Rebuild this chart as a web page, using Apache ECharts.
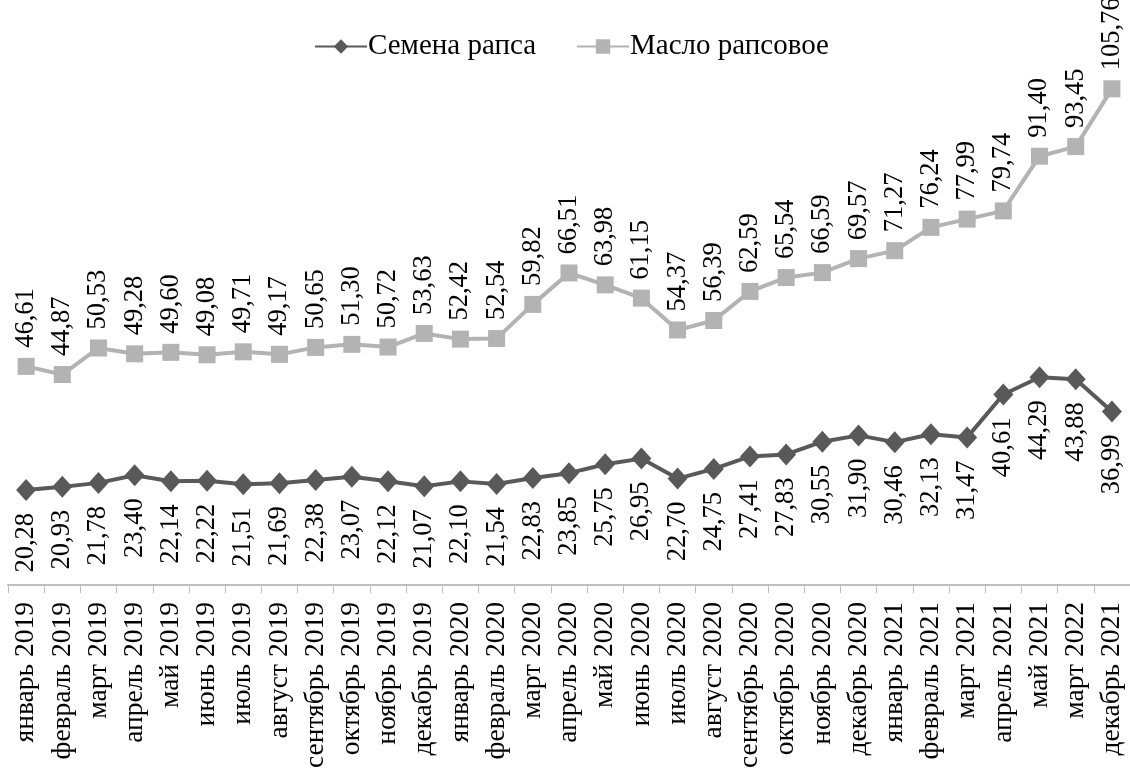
<!DOCTYPE html>
<html>
<head>
<meta charset="utf-8">
<script src="https://cdn.jsdelivr.net/npm/echarts@6/dist/echarts.min.js"></script>
<style>
  html, body { margin: 0; padding: 0; background: #fff; }
  #chart { width: 1130px; height: 771px; }
</style>
</head>
<body>
<div id="chart"></div>
<script>
// Месяцы наблюдений
const months = [
  'январь 2019', 'февраль 2019', 'март 2019', 'апрель 2019', 'май 2019', 'июнь 2019',
  'июль 2019', 'август 2019', 'сентябрь 2019', 'октябрь 2019', 'ноябрь 2019', 'декабрь 2019',
  'январь 2020', 'февраль 2020', 'март 2020', 'апрель 2020', 'май 2020', 'июнь 2020',
  'июль 2020', 'август 2020', 'сентябрь 2020', 'октябрь 2020', 'ноябрь 2020', 'декабрь 2020',
  'январь 2021', 'февраль 2021', 'март 2021', 'апрель 2021', 'май 2021', 'март 2022', 'декабрь 2021'
];

// Семена рапса, руб/кг
const seeds = [
  20.28, 20.93, 21.78, 23.40, 22.14, 22.22, 21.51, 21.69, 22.38, 23.07, 22.12, 21.07,
  22.10, 21.54, 22.83, 23.85, 25.75, 26.95, 22.70, 24.75, 27.41, 27.83, 30.55, 31.90,
  30.46, 32.13, 31.47, 40.61, 44.29, 43.88, 36.99
];

// Масло рапсовое, руб/кг
const oil = [
  46.61, 44.87, 50.53, 49.28, 49.60, 49.08, 49.71, 49.17, 50.65, 51.30, 50.72, 53.63,
  52.42, 52.54, 59.82, 66.51, 63.98, 61.15, 54.37, 56.39, 62.59, 65.54, 66.59, 69.57,
  71.27, 76.24, 77.99, 79.74, 91.40, 93.45, 105.76
];

const seriesNames = ['Семена рапса', 'Масло рапсовое'];
const titleText = 'Цены на семена и масло рапса (руб/кг)';

const FONT = '"Liberation Serif", "Times New Roman", serif';
const fmt = p => p.value.toFixed(2).replace('.', ',');

const chart = echarts.init(document.getElementById('chart'), null, { renderer: 'canvas' });

chart.setOption({
  animation: false,
  backgroundColor: '#ffffff',
  graphic: [{
    type: 'text',
    right: 755,
    top: -27,
    style: {
      text: titleText,
      font: 'bold 28px ' + FONT,
      fill: '#000'
    }
  }],
  legend: {
    top: 27,
    left: 309,
    itemWidth: 52,
    itemHeight: 18,
    itemGap: 40,
    textStyle: { fontFamily: FONT, fontSize: 29, color: '#000', padding: [0, 0, 0, -4] },
    data: seriesNames
  },
  grid: {
    left: 8,
    width: 1125,
    top: 22,
    bottom: 183,
    containLabel: false
  },
  xAxis: {
    type: 'category',
    data: months,
    boundaryGap: true,
    axisLine: { lineStyle: { color: '#bfbfbf', width: 2 } },
    axisTick: { show: true, length: 8, lineStyle: { color: '#bfbfbf', width: 1 } },
    axisLabel: {
      interval: 0,
      rotate: 90,
      margin: 17,
      fontFamily: FONT,
      fontSize: 27.5,
      color: '#000'
    }
  },
  yAxis: {
    type: 'value',
    min: 0,
    max: 120,
    show: false,
    splitLine: { show: false }
  },
  series: [
    {
      name: seriesNames[0],
      type: 'line',
      data: seeds,
      symbol: 'diamond',
      symbolSize: [20, 22],
      itemStyle: { color: '#595959' },
      lineStyle: { color: '#595959', width: 4 },
      label: {
        show: true,
        position: 'bottom',
        distance: 12,
        rotate: 90,
        align: 'right',
        verticalAlign: 'middle',
        fontFamily: FONT,
        fontSize: 26.5,
        color: '#000',
        formatter: fmt
      },
      z: 3
    },
    {
      name: seriesNames[1],
      type: 'line',
      data: oil,
      symbol: 'rect',
      symbolSize: 17,
      itemStyle: { color: '#b3b3b3' },
      lineStyle: { color: '#b3b3b3', width: 4 },
      label: {
        show: true,
        position: 'top',
        distance: 10,
        rotate: 90,
        align: 'left',
        verticalAlign: 'middle',
        fontFamily: FONT,
        fontSize: 26.5,
        color: '#000',
        formatter: fmt
      },
      z: 2
    }
  ]
});
</script>
</body>
</html>
